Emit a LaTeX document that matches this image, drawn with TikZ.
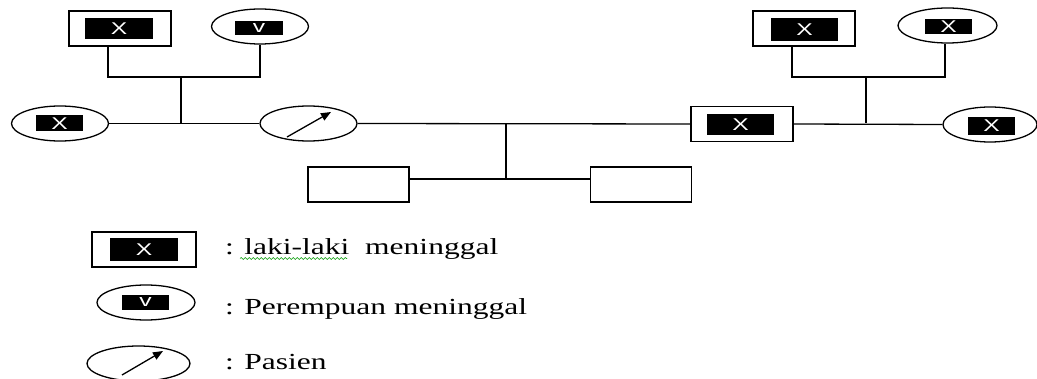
\documentclass[tikz,border=0pt]{standalone}
\usepackage{fontspec}
\setmainfont{Liberation Serif}
\newfontfamily\marksans{Liberation Sans}
\usetikzlibrary{arrows.meta,shapes.geometric,decorations.pathmorphing}

\tikzset{
  outline/.style={draw=black, line width=1.3pt},
  malebox/.style={outline, rectangle, inner sep=0pt, minimum width=102pt, minimum height=35pt},
  femalebox/.style={outline, ellipse, inner sep=0pt, minimum width=97pt, minimum height=35pt},
  deadmark/.style={fill=black, text=white, inner sep=0pt, font=\marksans\fontsize{17}{17}\selectfont},
  link/.style={draw=black, line width=1.3pt},
  pointer/.style={line width=1.3pt, -{Triangle[length=10pt,width=8pt]}},
  legendtext/.style={anchor=base west, inner sep=0pt, font=\fontsize{23}{26}\selectfont}
}
\newcommand{\wideX}[1]{\scalebox{1.45}[1]{#1}}
\newcommand{\wideT}[1]{\scalebox{1.37}[1]{#1}}

\begin{document}
\begin{tikzpicture}[x=1pt,y=-1pt]
\useasboundingbox (0,0) rectangle (1037,379);

% grandparents, left side
\node[malebox] (gfl) at (120,28.5) {};
\node[deadmark, minimum width=68pt, minimum height=21pt] (gflm) at (119,28.5) {\wideX{X}};
\node[femalebox] (gml) at (260,26.5) {};
\node[deadmark, minimum width=48pt, minimum height=14pt] (gmlm) at (259,28) {\wideX{v}};

% grandparents, right side
\node[malebox] (gfr) at (804,28.5) {};
\node[deadmark, minimum width=67pt, minimum height=23pt] (gfrm) at (804.5,29.5) {\wideX{X}};
\node[femalebox, minimum width=99pt] (gmr) at (947.5,25.5) {};
\node[deadmark, minimum width=47pt, minimum height=15pt] (gmrm) at (948.5,26.5) {\wideX{X}};

% parents' generation
\node[femalebox] (sl) at (60,123.5) {};
\node[deadmark, minimum width=47pt, minimum height=16pt] (slm) at (59.5,123.5) {\wideX{X}};
\node[femalebox] (pat) at (308.5,123.5) {};
\node[malebox] (fr) at (742,124) {};
\node[deadmark, minimum width=67pt, minimum height=21pt] (frm) at (740.5,124.5) {\wideX{X}};
\node[femalebox, minimum width=94pt] (sr) at (990,124.5) {};
\node[deadmark, minimum width=47pt, minimum height=18pt] (srm) at (991.5,126) {\wideX{X}};
\coordinate (pa1) at (287,137);
\coordinate (pa2) at (331,112);
\draw[pointer] (pa1) -- (pa2);

% children
\node[malebox, minimum width=101pt] (c1) at (358.5,184.5) {};
\node[malebox, minimum width=101pt] (c2) at (641,184.5) {};

% junction points
\coordinate (jl) at (181,77);
\coordinate (jlb) at (181,123.5);
\coordinate (jr) at (866,77);
\coordinate (jrb) at (866,123.5);
\coordinate (jc) at (506,123.5);
\coordinate (jcb) at (506,179);

% connectors
\draw[link] ([xshift=-12pt]gfl.south) |- (jl) -| (gml.south);
\draw[link] (jl) -- (jlb);
\draw[link] (sl.east) -- (pat.west);
\draw[link] ([xshift=-12pt]gfr.south) |- (jr) -| ([xshift=-2.5pt]gmr.south);
\draw[link] (jr) -- (jrb);
\draw[link] (fr.east) -- (sr.west);
\draw[link] (pat.east) -- (fr.west);
\draw[link] (jc) -- (jcb);
\draw[link] (c1.east |- jcb) -- (c2.west |- jcb);

% legend
\node[malebox, minimum width=104pt] (lg1) at (144,249.5) {};
\node[deadmark, minimum width=68pt, minimum height=23pt] (lg1m) at (144,249.5) {\wideX{X}};
\node[femalebox, minimum width=98pt] (lg2) at (146,302.5) {};
\node[deadmark, minimum width=47pt, minimum height=15pt] (lg2m) at (145.5,302.5) {\wideX{v}};
\node[femalebox, minimum width=103pt] (lg3) at (138.5,363.5) {};
\coordinate (lga1) at (122,375);
\coordinate (lga2) at (163,351);
\draw[pointer] (lga1) -- (lga2);

\node[legendtext] (t1) at (225,255) {\wideT{: laki-laki\ \ meninggal}};
\node[legendtext] (t2) at (225,315) {\wideT{: Perempuan meninggal}};
\node[legendtext] (t3) at (225,370) {\wideT{: Pasien}};
\coordinate (sp1) at (240,258.5);
\coordinate (sp2) at (347,258.5);
\draw[green!60!black, line width=0.6pt, decorate, decoration={snake, amplitude=1pt, segment length=4pt}] (sp1) -- (sp2);
\end{tikzpicture}
\end{document}
